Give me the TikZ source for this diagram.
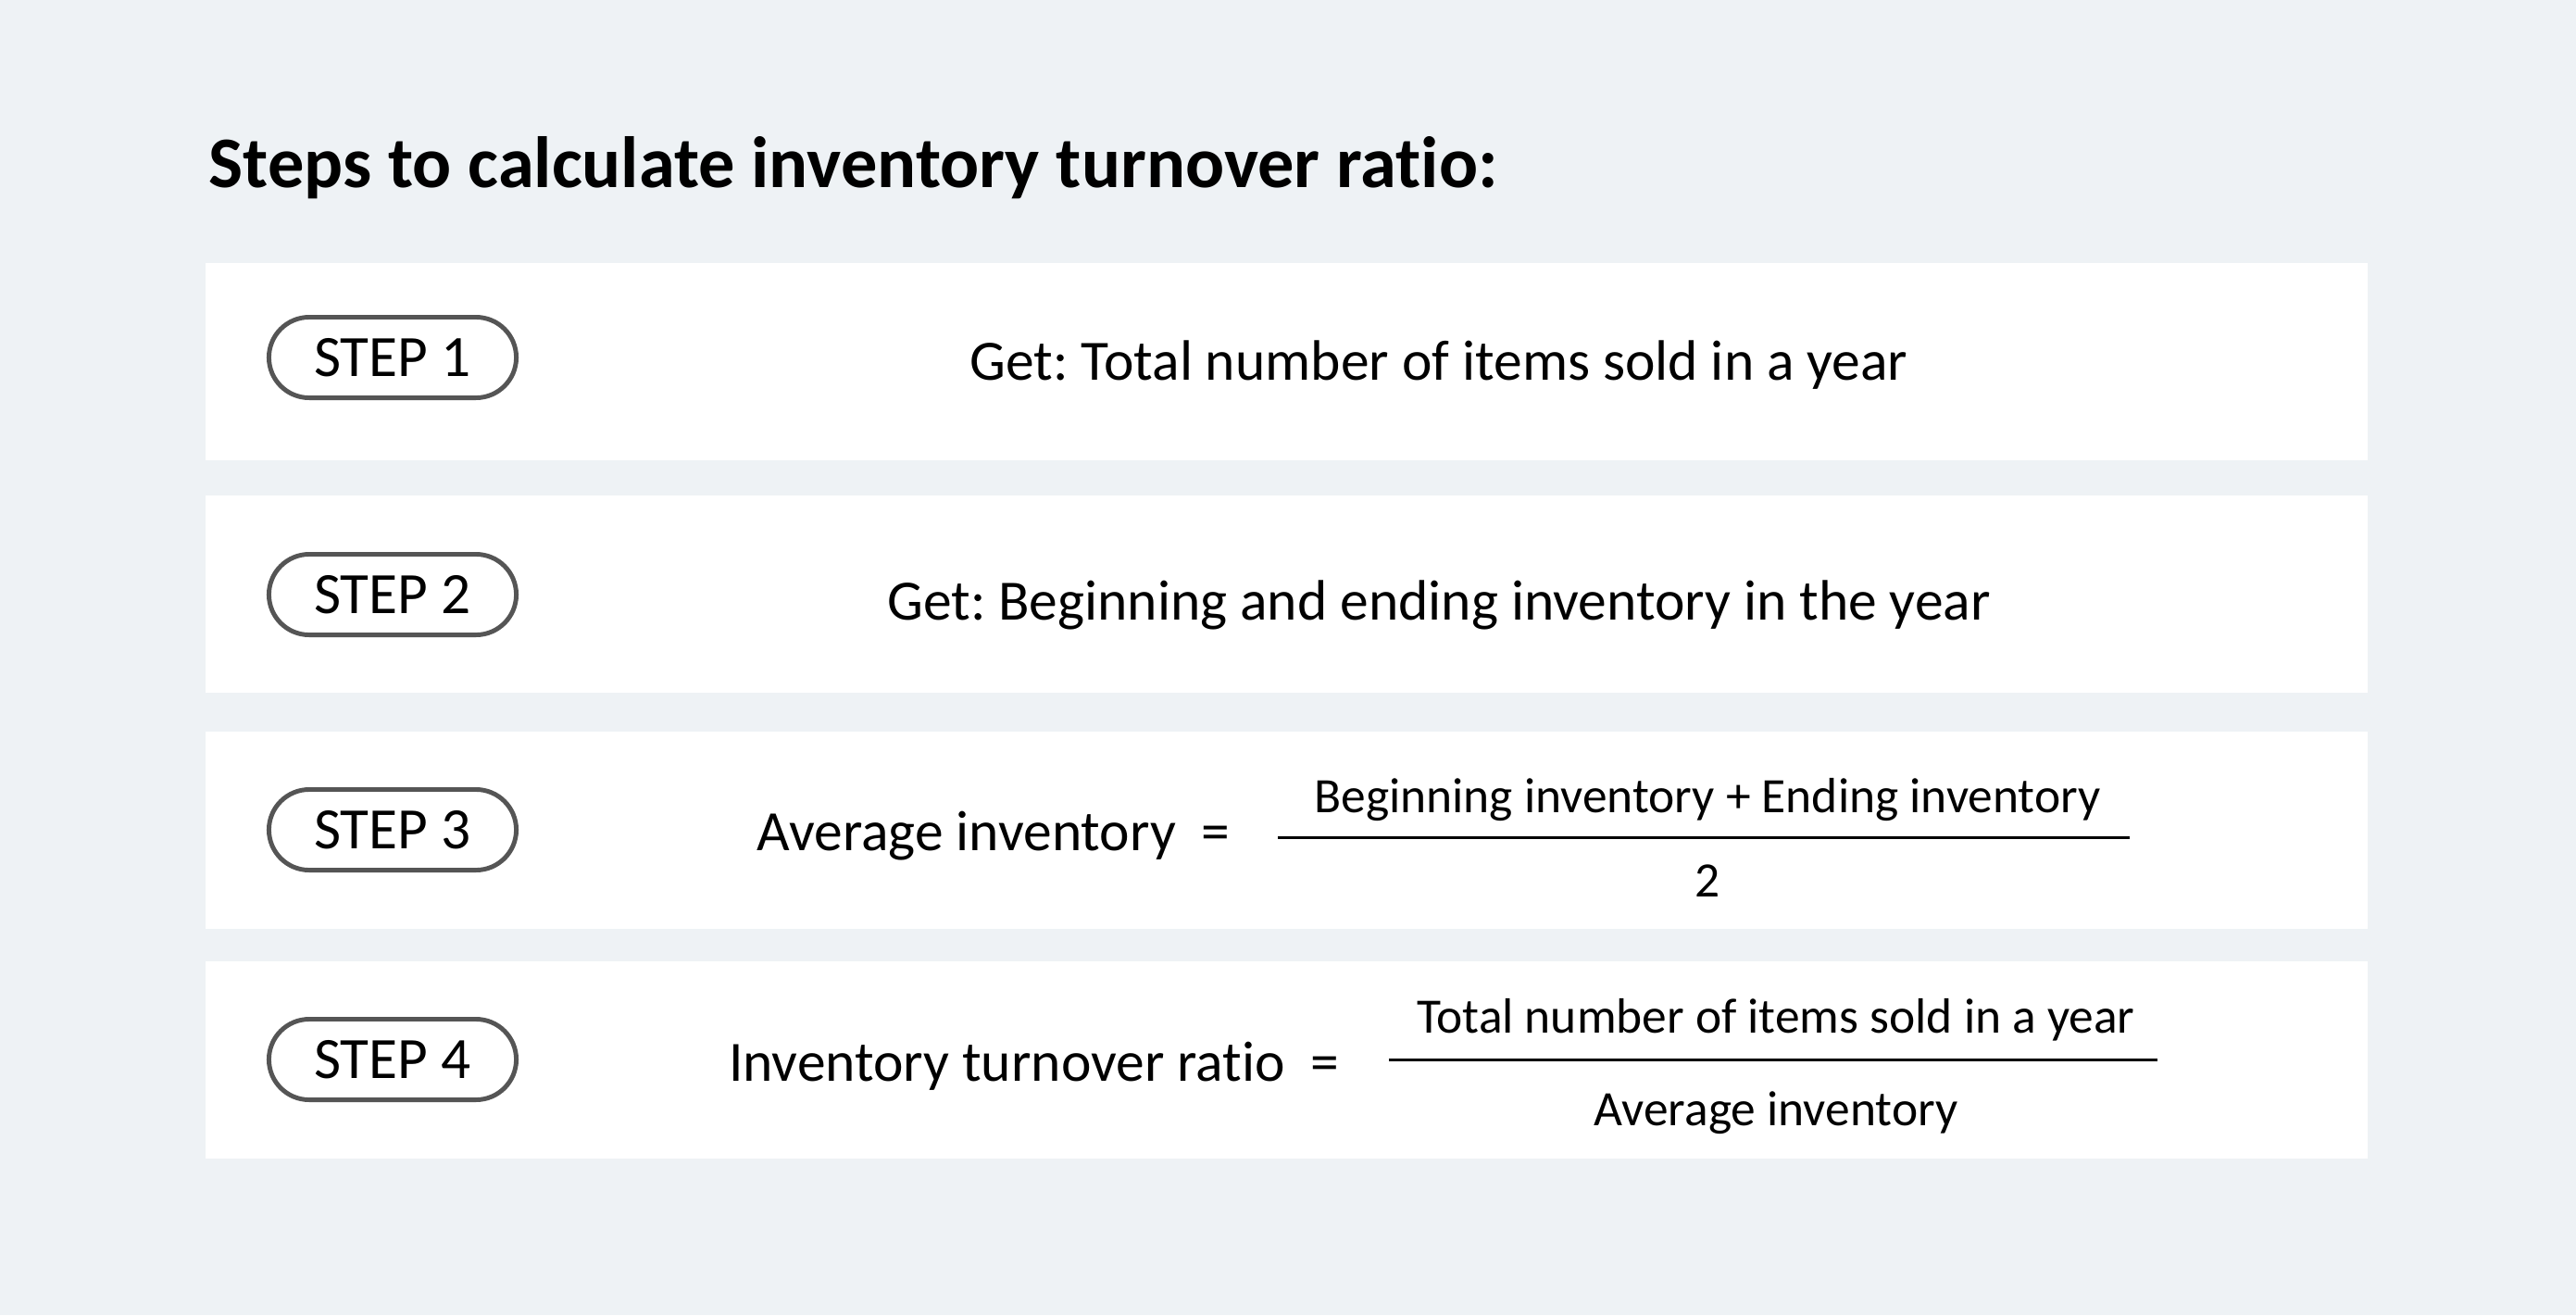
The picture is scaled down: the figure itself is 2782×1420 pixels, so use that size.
\documentclass[tikz,border=0pt]{standalone}
\usepackage{fontspec}
\setmainfont[Ligatures=NoCommon]{Carlito}
\usetikzlibrary{shapes.misc}
\definecolor{pagebg}{HTML}{EEF2F5}
\definecolor{pillgray}{HTML}{555555}
\tikzset{
every picture/.style={
line width=1pt
}}
\frenchspacing

\begin{document}
\begin{tikzpicture}[x=0.01cm, y=-0.01cm,
pill/.style = {rounded rectangle, draw=pillgray, line width=1.4pt, fill=white,
  minimum width=2.67cm, minimum height=0.87cm, inner sep=0pt, font=\fontsize{18}{20}\selectfont},
bodytext/.style = {font=\fontsize{17.5}{20}\selectfont, inner sep=0pt},
fractext/.style = {font=\fontsize{15.2}{18}\selectfont, inner sep=0pt},
fracbar/.style = {line width=0.85pt}]

\fill[pagebg] (0,0) rectangle (2782,1420);
\node[anchor=base west, inner sep=0pt, font=\fontsize{22.3}{26}\selectfont\bfseries] (title) at (224,202) {Steps to calculate inventory turnover ratio:};

% white rows
\foreach \top/\mid [count=\i] in {284/386, 535/642, 790/896, 1038/1144} {
  \fill[white] (222,\top) rectangle (2557,\top+213);
  \node[pill] (step\i) at (424,\mid) {STEP \i};
}

\node[bodytext, anchor=base] (get1) at (1554,410) {Get: Total number of items sold in a year};
\node[bodytext, anchor=base] (get2) at (1554,669) {Get: Beginning and ending inventory in the year};

% step 3
\node[bodytext, anchor=base east] (avg) at (1330,918) {Average inventory\ \ =};
\node[fractext, anchor=base] (avgnum) at (1844,877) {Beginning inventory + Ending inventory};
\node[fractext, anchor=base] (avgden) at (1844,968) {2};
\coordinate (avgbarl) at (1380,904);
\coordinate (avgbarr) at (2300,904);
\draw[fracbar] (avgbarl) -- (avgbarr);

% step 4
\node[bodytext, anchor=base east] (itr) at (1448,1167) {Inventory turnover ratio\ \ =};
\node[fractext, anchor=base] (itrnum) at (1918,1115) {Total number of items sold in a year};
\node[fractext, anchor=base] (itrden) at (1918,1215) {Average inventory};
\coordinate (itrbarl) at (1500,1144);
\coordinate (itrbarr) at (2330,1144);
\draw[fracbar] (itrbarl) -- (itrbarr);
\end{tikzpicture}
\end{document}
